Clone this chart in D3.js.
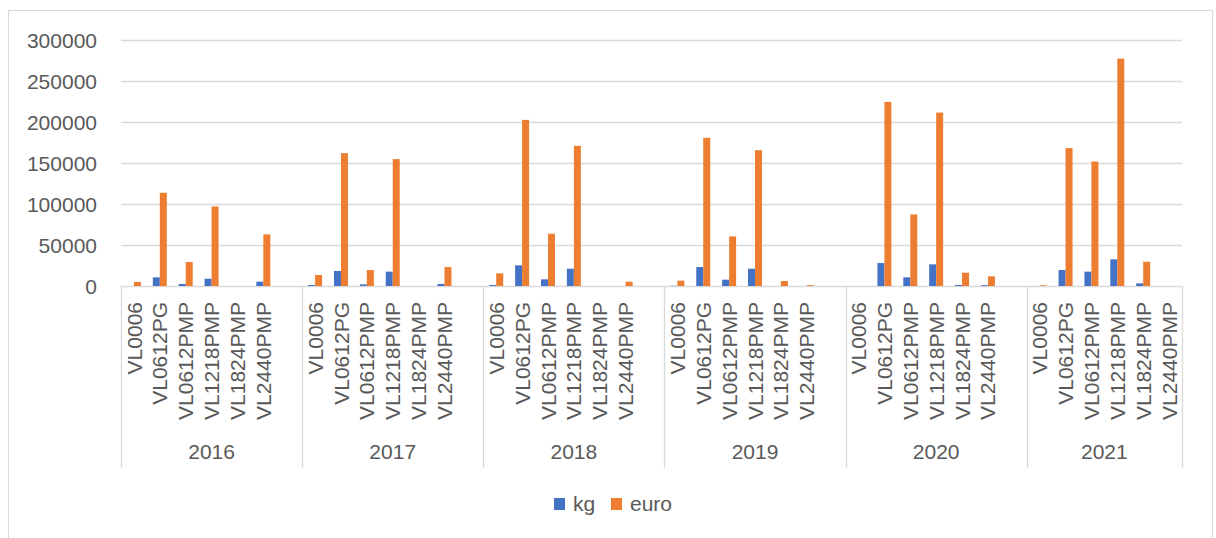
<!DOCTYPE html>
<html>
<head>
<meta charset="utf-8">
<style>
  body { margin: 0; background: #fff; }
  text { font-family: "Liberation Sans", Arial, sans-serif; fill: #595959; }
</style>
</head>
<body>
<div id="chart"></div>
<script src="https://d3js.org/d3.v7.min.js"></script>
<script>
// years on the outer axis, products inside each year
const years = ['2016', '2017', '2018', '2019', '2020', '2021'];
const products = ['VL0006', 'VL0612PG', 'VL0612PMP', 'VL1218PMP', 'VL1824PMP', 'VL2440PMP'];
// the pivot keeps an empty row at the end of each year except the last one
const yearsWithBlank = ['2016', '2017', '2018', '2019', '2020'];

// one row per year, one value per product
const kgValues = [
  [0, 10600, 2500, 8900, 0, 5300],
  [1200, 18300, 2000, 17500, 0, 2500],
  [1200, 25200, 8100, 21100, 0, 0],
  [300, 23100, 7700, 21100, 0, 0],
  [0, 28000, 10600, 26400, 1200, 1000],
  [0, 19500, 17500, 32500, 3200, 0]
];
const euroValues = [
  [5000, 113700, 29200, 97000, 0, 63000],
  [13400, 162000, 19500, 154700, 0, 23100],
  [15400, 202600, 63700, 170900, 0, 5300],
  [6500, 180700, 60500, 165600, 6100, 1000],
  [0, 224500, 87300, 211500, 16200, 11800],
  [800, 168100, 151800, 277300, 29600, 0]
];
const series = ['kg', 'euro'];
const colors = ['#4472C4', '#ED7D31'];
const yTicks = [0, 50000, 100000, 150000, 200000, 250000, 300000];

// flatten into categories
const rows = [];
years.forEach((yr, i) => {
  products.forEach((p, j) => {
    rows.push({ key: yr + '|' + p, year: yr, product: p, kg: kgValues[i][j], euro: euroValues[i][j] });
  });
  if (yearsWithBlank.includes(yr)) {
    rows.push({ key: yr + '|', year: yr, product: '', kg: 0, euro: 0 });
  }
});

const width = 1216;
const height = 538;
const plot = { left: 121, right: 1182, top: 40, bottom: 286 };

const svg = d3.select('#chart')
  .append('svg')
  .attr('width', width)
  .attr('height', height);

// chart area border
svg.append('rect')
  .attr('x', 8.5)
  .attr('y', 10.5)
  .attr('width', 1204)
  .attr('height', 560)
  .attr('fill', 'none')
  .attr('stroke', '#d9d9d9');

const x = d3.scaleBand()
  .domain(rows.map((d) => d.key))
  .range([plot.left, plot.right])
  .padding(0);

const y = d3.scaleLinear()
  .domain([0, 300000])
  .range([plot.bottom, plot.top]);

const barW = x.bandwidth() / 3.7;
const x1 = d3.scaleBand()
  .domain(series)
  .range([x.bandwidth() / 2 - barW, x.bandwidth() / 2 + barW]);

// gridlines
svg.append('g')
  .selectAll('line')
  .data(yTicks)
  .enter()
  .append('line')
  .attr('x1', plot.left)
  .attr('x2', plot.right)
  .attr('y1', (d) => Math.round(y(d)) + 0.5)
  .attr('y2', (d) => Math.round(y(d)) + 0.5)
  .attr('stroke', '#d9d9d9')
  .attr('stroke-width', 1.3);

// y axis labels
const yAxis = d3.axisLeft(y)
  .tickValues(yTicks)
  .tickFormat(d3.format('d'))
  .tickSize(0)
  .tickPadding(0);
const gy = svg.append('g')
  .attr('transform', 'translate(97, 0)')
  .call(yAxis);
gy.select('.domain').remove();
gy.selectAll('text')
  .attr('font-size', 21)
  .attr('font-family', '"Liberation Sans", Arial, sans-serif')
  .attr('fill', '#595959')
  .attr('dy', '0.36em');

// bars
const groups = svg.append('g')
  .selectAll('g')
  .data(rows)
  .enter()
  .append('g')
  .attr('transform', (d) => `translate(${x(d.key)}, 0)`);

groups.selectAll('rect')
  .data((d) => series.map((s) => ({ s: s, v: d[s] })))
  .enter()
  .append('rect')
  .attr('x', (d) => x1(d.s))
  .attr('width', x1.bandwidth())
  .attr('y', (d) => y(d.v))
  .attr('height', (d) => y(0) - y(d.v))
  .attr('fill', (d) => colors[series.indexOf(d.s)]);

// product labels, rotated
svg.append('g')
  .selectAll('text')
  .data(rows.filter((d) => d.product !== ''))
  .enter()
  .append('text')
  .attr('transform', (d) => `translate(${x(d.key) + x.bandwidth() / 2}, 302) rotate(-90)`)
  .attr('dy', '0.36em')
  .attr('text-anchor', 'end')
  .attr('font-size', 21)
  .text((d) => d.product);

// year separators and labels
const yearSpans = years.map((yr) => {
  const keys = rows.filter((d) => d.year === yr).map((d) => d.key);
  return { year: yr, x0: x(keys[0]), x1: x(keys[keys.length - 1]) + x.bandwidth() };
});
const sepXs = [yearSpans[0].x0].concat(yearSpans.map((d) => d.x1));

svg.append('g')
  .selectAll('line')
  .data(sepXs)
  .enter()
  .append('line')
  .attr('x1', (d) => Math.round(d) + 0.5)
  .attr('x2', (d) => Math.round(d) + 0.5)
  .attr('y1', plot.bottom)
  .attr('y2', 468)
  .attr('stroke', '#d9d9d9')
  .attr('stroke-width', 1.3);

svg.append('g')
  .selectAll('text')
  .data(yearSpans)
  .enter()
  .append('text')
  .attr('x', (d) => (d.x0 + d.x1) / 2)
  .attr('y', 459)
  .attr('text-anchor', 'middle')
  .attr('font-size', 21)
  .text((d) => d.year);

// legend
const legend = svg.append('g');
const legendX = [554, 611];
series.forEach((s, i) => {
  legend.append('rect')
    .attr('x', legendX[i])
    .attr('y', 498)
    .attr('width', 11)
    .attr('height', 12)
    .attr('fill', colors[i]);
  legend.append('text')
    .attr('x', legendX[i] + 19)
    .attr('y', 511)
    .attr('font-size', 21)
    .text(s);
});
</script>
</body>
</html>
